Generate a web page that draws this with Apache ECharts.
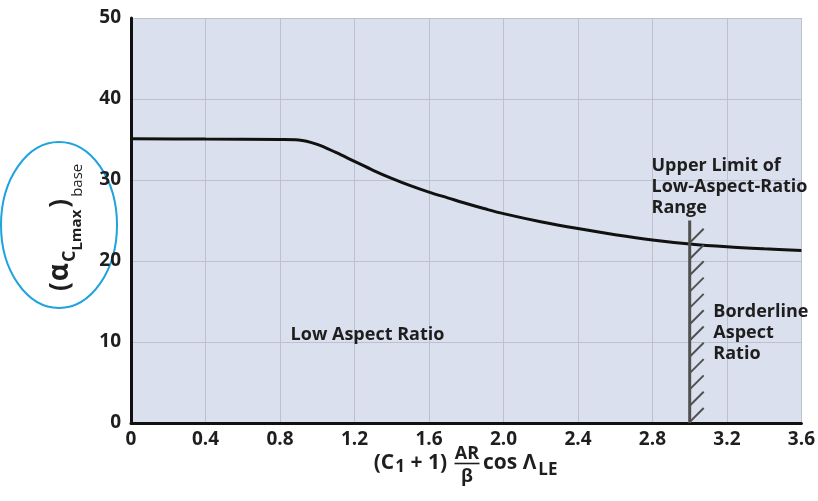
<!DOCTYPE html>
<html>
<head>
<meta charset="utf-8">
<script src="https://cdn.jsdelivr.net/npm/echarts@6/dist/echarts.min.js"></script>
<style>
  html, body { margin: 0; padding: 0; background: #ffffff; }
  #chart { width: 818px; height: 501px; }
</style>
</head>
<body>
<div id="chart"></div>
<script>
// Base maximum-lift angle of attack vs. the low-aspect-ratio parameter
const xParam    = [0, 0.4, 0.8, 0.9, 1.0, 1.1, 1.2, 1.3, 1.4, 1.5, 1.6, 1.7, 1.8, 1.9, 2.0, 2.2, 2.4, 2.6, 2.8, 3.0, 3.2, 3.4, 3.6];
const alphaBase = [35.1, 35.05, 35.0, 34.95, 34.4, 33.4, 32.3, 31.2, 30.2, 29.3, 28.5, 27.8, 27.1, 26.45, 25.85, 24.85, 24.0, 23.25, 22.6, 22.1, 21.75, 21.5, 21.3];

const xTickLabels = ['0', '0.4', '0.8', '1.2', '1.6', '2.0', '2.4', '2.8', '3.2', '3.6'];
const yTickLabels = ['0', '10', '20', '30', '40', '50'];

// Upper limit of the low-aspect-ratio range (hatched boundary)
const limitX   = [3.0];
const limitTop = [25];

// Region notes, anchored in data units
const noteX    = [0.857, 2.795, 3.127];
const noteY    = [10.9, 33.1, 15.0];
const noteText = ['Low Aspect Ratio', 'Upper Limit of\nLow-Aspect-Ratio\nRange', 'Borderline\nAspect\nRatio'];

const FONT = '"Open Sans", "DejaVu Sans", sans-serif';
const INK = '#1e1e1e';

// measure text so that subscript runs can be laid out token by token
const measureCtx = document.createElement('canvas').getContext('2d');
function textWidth(str, font) {
  measureCtx.font = font;
  return measureCtx.measureText(str).width;
}
// tokens: [text, size, weight, baseline shift, extra gap before]; elements share one baseline
function runElements(tokens, startX, baseY) {
  let x = startX;
  return tokens.map(([t, size, weight, dy, gap]) => {
    const font = weight + ' ' + size + 'px ' + FONT;
    x += gap || 0;
    const el = {
      type: 'text', x: x, y: baseY + dy - 0.33 * size,
      style: { text: t, font: font, fill: INK, verticalAlign: 'middle', align: 'left' }
    };
    x += textWidth(t, font);
    return el;
  });
}
function runWidth(tokens) {
  return tokens.reduce((w, [t, size, weight, dy, gap]) => w + (gap || 0) + textWidth(t, weight + ' ' + size + 'px ' + FONT), 0);
}

const xTitleLeft  = [['(C', 21, 'bold', 0], ['1', 17, 'bold', 3, 1], [' + 1)', 21, 'bold', 0]];
const xTitleRight = [['cos Λ', 21, 'bold', 0], ['LE', 17, 'bold', 6, 2]];
const yTitle = [
  ['(', 26, 'bold', 0],
  ['α', 28, 'bold', 0, 1],
  ['C', 18, 'bold', 7, 1],
  ['L', 15, 'bold', 14, 0],
  ['max', 15, 'bold', 13, 0],
  [')', 26, 'bold', 0, 2],
  ['base', 15, 'normal', 14, 2]
];

const chart = echarts.init(document.getElementById('chart'));

const curve = xParam.map((x, i) => [x, alphaBase[i]]);
const notes = noteX.map((x, i) => [x, noteY[i], i]);

const fracCx = 467;
const xBase = 470;

chart.setOption({
  animation: false,
  backgroundColor: '#ffffff',
  grid: {
    left: 131, right: 15, top: 18, bottom: 78,
    show: true, backgroundColor: '#dae0ed', borderWidth: 0
  },
  xAxis: {
    type: 'value', min: 0, max: 3.6, interval: 0.4,
    axisLine: { show: true, onZero: false, lineStyle: { color: '#111', width: 3 } },
    axisTick: { show: false },
    splitLine: { show: true, lineStyle: { color: '#bcc1cd', width: 1 } },
    axisLabel: {
      margin: 7, color: INK, fontFamily: FONT, fontWeight: 'bold', fontSize: 19,
      formatter: v => xTickLabels[Math.round(v / 0.4)]
    }
  },
  yAxis: {
    type: 'value', min: 0, max: 50, interval: 10,
    axisLine: { show: true, onZero: false, lineStyle: { color: '#111', width: 3 } },
    axisTick: { show: false },
    splitLine: { show: true, lineStyle: { color: '#bcc1cd', width: 1 } },
    axisLabel: {
      margin: 10, color: INK, fontFamily: FONT, fontWeight: 'bold', fontSize: 19,
      formatter: v => yTickLabels[Math.round(v / 10)]
    }
  },
  series: [
    {
      type: 'line', data: curve, smooth: 0.35, showSymbol: false,
      lineStyle: { color: '#111', width: 3 }, z: 5
    },
    {
      // hatched boundary line at the upper limit of the low-aspect-ratio range
      type: 'custom', data: [[limitX[0], limitTop[0]]], z: 6,
      renderItem(params, api) {
        const x = api.value(0), top = api.value(1);
        const p0 = api.coord([x, 0]);
        const p1 = api.coord([x, top]);
        const children = [{
          type: 'line',
          shape: { x1: p0[0], y1: p0[1], x2: p1[0], y2: p1[1] },
          style: { stroke: '#505050', lineWidth: 3 }
        }];
        const step = 16.3;
        for (let y = p0[1] - 1; y > p1[1] + 6; y -= step) {
          children.push({
            type: 'line',
            shape: { x1: p0[0], y1: y, x2: p0[0] + 14, y2: y - 14 },
            style: { stroke: '#505050', lineWidth: 2 }
          });
        }
        return { type: 'group', children };
      }
    },
    {
      // region notes
      type: 'custom', data: notes, z: 7,
      renderItem(params, api) {
        const p = api.coord([api.value(0), api.value(1)]);
        const i = api.value(2);
        return {
          type: 'text',
          x: p[0], y: p[1],
          style: {
            text: noteText[i], fill: INK, font: 'bold 18px ' + FONT,
            lineHeight: 21, align: 'left', verticalAlign: i === 0 ? 'middle' : 'top'
          }
        };
      }
    }
  ],
  graphic: [
    {
      // x-axis title: (C1 + 1) AR/β cos Λ_LE
      type: 'group', left: 0, top: 0, bounding: 'raw',
      children: [].concat(
        runElements(xTitleLeft, fracCx - 20 - runWidth(xTitleLeft), xBase),
        [
          { type: 'text', x: fracCx, y: 460 - 0.33 * 18, style: { text: 'AR', font: 'bold 18px ' + FONT, fill: INK, align: 'center', verticalAlign: 'middle' } },
          { type: 'line', shape: { x1: fracCx - 12.5, y1: 463.5, x2: fracCx + 12.5, y2: 463.5 }, style: { stroke: INK, lineWidth: 1.6 } },
          { type: 'text', x: fracCx, y: 483 - 0.33 * 18, style: { text: 'β', font: 'bold 18px ' + FONT, fill: INK, align: 'center', verticalAlign: 'middle' } }
        ],
        runElements(xTitleRight, fracCx + 16, xBase)
      )
    },
    {
      // y-axis title: (α_C_Lmax)_base, reading bottom to top
      type: 'group', x: 69, y: 291, rotation: Math.PI / 2, bounding: 'raw',
      children: runElements(yTitle, 0, 0)
    },
    {
      type: 'ellipse',
      shape: { cx: 59, cy: 225, rx: 58, ry: 83 },
      style: { stroke: '#1ea3de', fill: 'none', lineWidth: 2 }
    }
  ]
});
</script>
</body>
</html>
